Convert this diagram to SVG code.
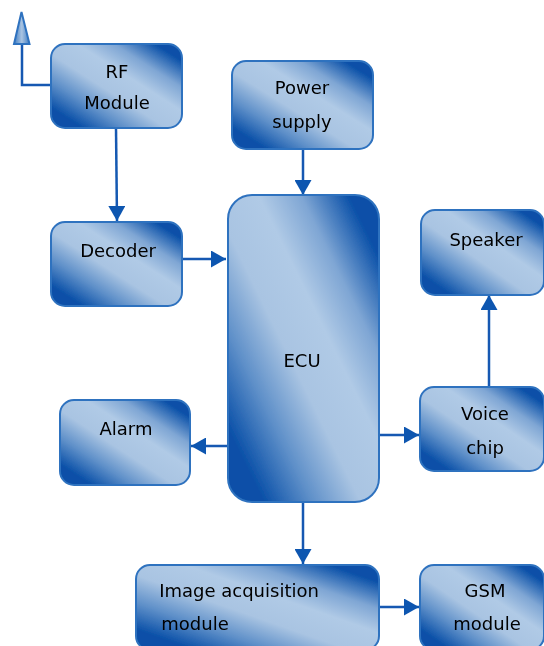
<svg xmlns="http://www.w3.org/2000/svg" width="544" height="646" viewBox="0 0 544 646">
<defs>
<linearGradient id="g" x1="0" y1="1" x2="1" y2="0">
<stop offset="0.12" stop-color="#0a50a8"/><stop offset="0.28" stop-color="#5f90c9"/><stop offset="0.44" stop-color="#a9c4e2"/><stop offset="0.6" stop-color="#b0cae6"/><stop offset="0.74" stop-color="#7fa6d4"/><stop offset="0.9" stop-color="#0a50a8"/>
</linearGradient>
<linearGradient id="a" x1="0" y1="0" x2="1" y2="0"><stop offset="0" stop-color="#3f7cc2"/><stop offset="0.5" stop-color="#a9c4e2"/><stop offset="1" stop-color="#3f7cc2"/></linearGradient>
<marker id="h" markerUnits="userSpaceOnUse" markerWidth="16" markerHeight="17" refX="15" refY="8.5" orient="auto"><path d="M0 0L15 8.5L0 17Z" fill="#0f56b0"/></marker>
<filter id="b" x="0" y="0" width="1" height="1" filterUnits="objectBoundingBox"><feGaussianBlur stdDeviation="0.6"/></filter>
</defs>
<style>
.n{fill:url(#g);stroke:#2f72bf;stroke-width:2}
.c{fill:none;stroke:#1259b2;stroke-width:2.5}
.t{font:18px "DejaVu Sans",sans-serif;fill:#000;text-anchor:middle}
</style>
<g filter="url(#b)">
<rect width="544" height="646" fill="#fff"/>
<g id="connectors">
<path class="c" d="M51 85H22V44"/>
<path d="M21.500 12L29.500 44H14Z" fill="url(#a)" stroke="#2f72bf" stroke-width="2"/>
<path class="c" d="M116 128L117 221" marker-end="url(#h)"/>
<path class="c" d="M183 259H226" marker-end="url(#h)"/>
<path class="c" d="M303 150V195" marker-end="url(#h)"/>
<path class="c" d="M489 386V295" marker-end="url(#h)"/>
<path class="c" d="M379 435H419" marker-end="url(#h)"/>
<path class="c" d="M228 446H191" marker-end="url(#h)"/>
<path class="c" d="M303 502V564" marker-end="url(#h)"/>
<path class="c" d="M379 607H419" marker-end="url(#h)"/>
</g>
<g id="rf"><rect class="n" x="51" y="44" width="131" height="84" rx="14"/><text class="t" x="117" y="78">RF</text><text class="t" x="117" y="109">Module</text></g>
<g id="power"><rect class="n" x="232" y="61" width="141" height="88" rx="14"/><text class="t" x="302" y="94">Power</text><text class="t" x="302" y="128">supply</text></g>
<g id="decoder"><rect class="n" x="51" y="222" width="131" height="84" rx="14"/><text class="t" x="118" y="257">Decoder</text></g>
<g id="ecu"><rect class="n" x="228" y="195" width="151" height="307" rx="24"/><text class="t" x="302" y="367">ECU</text></g>
<g id="speaker"><rect class="n" x="421" y="210" width="123" height="85" rx="14"/><text class="t" x="486" y="246">Speaker</text></g>
<g id="voice"><rect class="n" x="420" y="387" width="124" height="84" rx="14"/><text class="t" x="485" y="420">Voice</text><text class="t" x="485" y="454">chip</text></g>
<g id="alarm"><rect class="n" x="60" y="400" width="130" height="85" rx="14"/><text class="t" x="126" y="435">Alarm</text></g>
<g id="image"><rect class="n" x="136" y="565" width="243" height="85" rx="14"/><text class="t" x="239" y="597">Image acquisition</text><text class="t" x="195" y="630">module</text></g>
<g id="gsm"><rect class="n" x="420" y="565" width="124" height="85" rx="14"/><text class="t" x="485" y="597">GSM</text><text class="t" x="487" y="630">module</text></g>
</g>
</svg>
